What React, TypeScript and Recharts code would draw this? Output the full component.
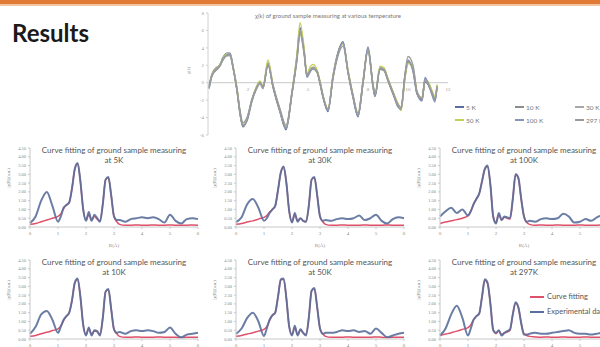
import { LineChart, Line, XAxis, YAxis, ReferenceLine, ReferenceDot, Legend } from 'recharts';

// chi(k) at various temperature (top chart)
const kVals = [0.05, 0.2, 0.45, 0.6, 0.75, 0.95, 1.1, 1.25, 1.45, 1.6, 1.75, 1.95, 2.2, 2.45, 2.6, 2.75, 3.0, 3.25, 3.6, 3.9, 4.2, 4.45, 4.6, 4.8, 4.95, 5.1, 5.25, 5.45, 5.6, 5.75, 6.0, 6.25, 6.5, 6.75, 7.0, 7.25, 7.5, 7.75, 8.0, 8.25, 8.35, 8.6, 8.8, 9.0, 9.25, 9.5, 9.65, 9.85, 10.0, 10.25, 10.45, 10.7, 10.85, 11.0, 11.2, 11.35, 11.45];
const chi5K = [-0.6, 0.9, 1.7, 2.1, 2.9, 3.4, 3.4, 1.9, -0.8, -3.5, -5.0, -4.3, -2.0, -0.5, 0.0, -0.6, 2.3, -0.4, -3.3, -5.4, -1.2, 3.0, 6.3, 3.8, 0.7, 1.3, 1.7, 1.3, 0.0, -1.6, -3.3, 0.7, 3.4, 4.7, 1.3, -1.6, -3.9, 0.0, 4.0, -0.4, -1.6, 1.7, 1.5, 0.3, -1.2, -2.7, -3.1, 0.7, 2.4, 1.5, -1.2, -2.0, 0.1, -0.2, -1.2, -2.0, -0.4];
const chi10K = [-0.5, 1.0, 1.8, 2.0, 2.8, 3.3, 3.3, 1.8, -0.9, -3.6, -5.1, -4.2, -1.9, -0.4, 0.1, -0.5, 2.2, -0.5, -3.4, -5.3, -1.1, 3.1, 6.1, 3.7, 0.8, 1.4, 1.6, 1.2, -0.1, -1.7, -3.2, 0.8, 3.5, 4.6, 1.2, -1.7, -3.8, 0.1, 3.9, -0.5, -1.5, 1.6, 1.4, 0.2, -1.3, -2.6, -3.0, 0.8, 2.5, 1.4, -1.3, -1.9, 0.3, -0.1, -1.3, -1.9, -0.3];
const chi30K = [-0.6, 0.8, 1.6, 2.0, 2.8, 3.3, 3.2, 1.8, -0.7, -3.4, -4.9, -4.2, -2.1, -0.6, -0.1, -0.7, 2.2, -0.3, -3.2, -5.2, -1.3, 2.9, 6.0, 3.6, 0.9, 1.5, 1.8, 1.4, 0.1, -1.5, -3.1, 0.6, 3.3, 4.5, 1.4, -1.5, -3.7, -0.1, 3.8, -0.3, -1.4, 1.8, 1.6, 0.4, -1.1, -2.5, -2.9, 0.6, 2.3, 1.6, -1.1, -1.8, 0.4, 0.0, -1.0, -1.8, -0.5];
const chi50K = [-0.5, 0.9, 1.7, 2.1, 2.8, 3.3, 3.3, 1.9, -0.6, -3.3, -4.8, -4.1, -2.0, -0.3, 0.2, -0.4, 2.6, -0.2, -3.1, -5.1, -1.0, 3.3, 6.9, 4.1, 1.0, 1.8, 2.1, 1.5, 0.2, -1.4, -3.0, 0.8, 3.3, 4.4, 1.5, -1.4, -3.6, 0.2, 3.7, -0.2, -1.3, 1.9, 1.7, 0.5, -1.0, -2.4, -3.2, 0.5, 2.2, 1.7, -1.0, -1.7, 0.2, 0.1, -0.9, -1.6, -0.2];
const chi100K = [-0.7, 0.8, 1.6, 2.0, 2.7, 3.2, 3.3, 1.8, -0.9, -3.4, -4.9, -4.4, -2.1, -0.5, 0.0, -0.5, 2.1, -0.5, -3.2, -5.2, -1.1, 2.8, 5.9, 3.6, 0.6, 1.2, 1.6, 1.2, 0.0, -1.6, -3.2, 0.6, 3.4, 4.6, 1.2, -1.6, -3.8, 0.0, 4.1, -0.3, -1.5, 1.6, 1.5, 0.3, -1.2, -2.8, -3.0, 0.9, 2.6, 1.3, -1.2, -2.1, 0.6, 0.0, -1.4, -2.2, -0.6];
const chi297K = [-0.4, 0.9, 1.5, 1.9, 2.6, 3.1, 3.1, 1.7, -0.8, -3.2, -4.6, -4.0, -1.9, -0.5, 0.0, -0.5, 2.0, -0.3, -3.0, -4.9, -1.2, 2.6, 5.6, 3.4, 0.9, 1.4, 1.7, 1.3, 0.0, -1.5, -3.0, 0.5, 3.1, 4.2, 1.2, -1.4, -3.5, 0.1, 3.6, -0.2, -1.3, 1.5, 1.4, 0.3, -1.1, -2.5, -2.8, 1.0, 3.0, 2.0, -1.0, -1.8, 0.2, -0.1, -1.1, -1.8, -0.4];
const chiTicksY = [-6, -4, -2, 0, 2, 4, 6, 8];
const chiTicksX = [2, 5, 8, 10, 12];

// |chi(R)| curve fitting panels
const rVals = [0, 0.2, 0.4, 0.6, 0.8, 1.0, 1.1, 1.2, 1.3, 1.4, 1.5, 1.6, 1.7, 1.8, 1.9, 2.0, 2.1, 2.2, 2.3, 2.4, 2.5, 2.6, 2.7, 2.8, 2.9, 3.0, 3.1, 3.2, 3.4, 3.6, 3.8, 4.0, 4.2, 4.4, 4.6, 4.8, 5.0, 5.2, 5.4, 5.6, 5.8, 6.0];
const exp5K = [0.23, 0.6, 1.5, 2.0, 1.2, 0.3, 0.6, 1.1, 1.25, 1.4, 2.2, 3.3, 3.65, 2.6, 1.0, 0.35, 0.85, 0.35, 0.7, 0.5, 0.3, 1.3, 2.7, 2.85, 1.8, 0.6, 0.4, 0.4, 0.3, 0.45, 0.5, 0.55, 0.5, 0.55, 0.45, 0.25, 0.7, 0.35, 0.2, 0.45, 0.5, 0.45];
const fit5K = [0.15, 0.2, 0.3, 0.4, 0.5, 0.6, 0.75, 1.05, 1.25, 1.4, 2.2, 3.3, 3.6, 2.6, 1.0, 0.4, 0.7, 0.4, 0.6, 0.45, 0.35, 1.3, 2.7, 2.8, 1.8, 0.6, 0.3, 0.15, 0.1, 0.1, 0.12, 0.1, 0.1, 0.12, 0.1, 0.1, 0.12, 0.1, 0.1, 0.1, 0.12, 0.1];
const exp30K = [0.28, 0.55, 1.3, 1.6, 1.1, 0.35, 0.5, 0.8, 1.0, 1.2, 2.1, 3.1, 3.45, 2.5, 0.9, 0.25, 0.8, 0.3, 0.5, 0.35, 0.3, 1.2, 2.7, 2.85, 1.8, 0.6, 0.35, 0.4, 0.35, 0.45, 0.5, 0.45, 0.5, 0.65, 0.4, 0.5, 0.7, 0.35, 0.2, 0.45, 0.55, 0.5];
const fit30K = [0.15, 0.2, 0.28, 0.35, 0.45, 0.55, 0.65, 0.85, 1.0, 1.2, 2.1, 3.1, 3.4, 2.5, 0.9, 0.3, 0.7, 0.35, 0.5, 0.35, 0.3, 1.2, 2.7, 2.8, 1.8, 0.6, 0.3, 0.15, 0.1, 0.1, 0.12, 0.1, 0.1, 0.1, 0.12, 0.1, 0.1, 0.1, 0.12, 0.1, 0.1, 0.1];
const exp100K = [0.6, 0.9, 1.1, 0.8, 1.0, 0.65, 0.9, 1.3, 1.6, 1.9, 2.6, 3.3, 3.5, 2.4, 0.6, 0.2, 0.8, 0.4, 0.6, 0.55, 0.5, 1.6, 3.0, 2.8, 1.6, 0.6, 0.3, 0.35, 0.3, 0.45, 0.5, 0.45, 0.5, 0.75, 0.6, 0.25, 0.3, 0.45, 0.35, 0.55, 0.65, 0.6];
const fit100K = [0.2, 0.28, 0.35, 0.42, 0.5, 0.65, 0.9, 1.3, 1.6, 1.9, 2.6, 3.3, 3.45, 2.4, 0.6, 0.25, 0.7, 0.4, 0.55, 0.5, 0.45, 1.6, 3.0, 2.75, 1.6, 0.6, 0.25, 0.15, 0.1, 0.12, 0.1, 0.1, 0.12, 0.1, 0.1, 0.1, 0.12, 0.1, 0.1, 0.1, 0.12, 0.1];
const exp10K = [0.3, 0.7, 1.4, 1.6, 1.1, 0.35, 0.7, 1.1, 1.3, 1.5, 2.2, 3.2, 3.45, 2.4, 0.8, 0.2, 0.65, 0.2, 0.5, 0.45, 0.2, 1.2, 2.7, 2.85, 1.7, 0.55, 0.35, 0.4, 0.3, 0.45, 0.5, 0.45, 0.5, 0.45, 0.35, 0.4, 0.65, 0.3, 0.1, 0.25, 0.3, 0.35];
const fit10K = [0.15, 0.2, 0.3, 0.38, 0.48, 0.58, 0.75, 1.05, 1.3, 1.5, 2.2, 3.2, 3.4, 2.4, 0.8, 0.25, 0.6, 0.25, 0.45, 0.4, 0.25, 1.2, 2.7, 2.8, 1.7, 0.55, 0.3, 0.15, 0.1, 0.1, 0.12, 0.1, 0.1, 0.1, 0.12, 0.1, 0.1, 0.1, 0.08, 0.1, 0.1, 0.1];
const exp50K = [0.3, 0.6, 1.2, 1.5, 1.0, 0.17, 0.6, 1.1, 1.35, 1.5, 2.4, 3.4, 3.45, 2.3, 0.7, 0.2, 0.75, 0.2, 0.55, 0.35, 0.2, 1.2, 2.75, 2.9, 1.8, 0.6, 0.3, 0.35, 0.35, 0.4, 0.5, 0.45, 0.5, 0.4, 0.45, 0.3, 0.6, 0.35, 0.1, 0.2, 0.3, 0.35];
const fit50K = [0.15, 0.2, 0.28, 0.36, 0.45, 0.55, 0.7, 1.05, 1.35, 1.5, 2.4, 3.35, 3.4, 2.3, 0.7, 0.25, 0.65, 0.25, 0.5, 0.35, 0.25, 1.2, 2.75, 2.85, 1.8, 0.6, 0.3, 0.15, 0.1, 0.1, 0.1, 0.12, 0.1, 0.1, 0.1, 0.1, 0.12, 0.1, 0.08, 0.1, 0.1, 0.1];
const exp297K = [0.2, 0.6, 1.4, 1.9, 1.2, 0.2, 0.6, 1.1, 1.3, 1.45, 2.4, 3.4, 3.2, 2.0, 0.5, 0.35, 0.5, 0.2, 0.35, 0.45, 0.55, 1.4, 2.1, 1.8, 0.9, 0.25, 0.25, 0.3, 0.35, 0.3, 0.3, 0.35, 0.4, 0.45, 0.5, 0.35, 0.3, 0.3, 0.25, 0.3, 0.35, 0.3];
const fit297K = [0.2, 0.28, 0.36, 0.45, 0.55, 0.65, 0.8, 1.1, 1.3, 1.45, 2.4, 3.35, 3.15, 2.0, 0.55, 0.3, 0.45, 0.25, 0.35, 0.4, 0.5, 1.4, 2.05, 1.8, 0.9, 0.3, 0.2, 0.15, 0.12, 0.1, 0.12, 0.1, 0.1, 0.12, 0.1, 0.1, 0.1, 0.12, 0.1, 0.1, 0.1, 0.1];
const rTicksY = [0, 0.5, 1, 1.5, 2, 2.5, 3, 3.5, 4, 4.5];
const rTicksX = [0, 1, 2, 3, 4, 5, 6];

const tempSeries = [
  { key: 't5', name: '5 K', color: '#5b6e9e', values: chi5K },
  { key: 't10', name: '10 K', color: '#8c8c8c', values: chi10K },
  { key: 't30', name: '30 K', color: '#a8a8a8', values: chi30K },
  { key: 't50', name: '50 K', color: '#c4cf5a', values: chi50K },
  { key: 't100', name: '100 K', color: '#8896b5', values: chi100K },
  { key: 't297', name: '297 K', color: '#9b9b9b', values: chi297K },
];

const chiData = kVals.map((k, i) => {
  const row: Record<string, number> = { k };
  tempSeries.forEach((s) => { row[s.key] = s.values[i]; });
  return row;
});

const FIT_COLOR = '#e0506a';
const EXP_COLOR = '#5a6f9a';
const FONT = 'Lato, "Open Sans", sans-serif';

const panels = [
  { label: '5K', exp: exp5K, fit: fit5K, left: 0, top: 140 },
  { label: '30K', exp: exp30K, fit: fit30K, left: 206, top: 140 },
  { label: '100K', exp: exp100K, fit: fit100K, left: 410, top: 140 },
  { label: '10K', exp: exp10K, fit: fit10K, left: 0, top: 252 },
  { label: '50K', exp: exp50K, fit: fit50K, left: 206, top: 252 },
  { label: '297K', exp: exp297K, fit: fit297K, left: 410, top: 252, legend: true },
];

const TempLegend = () => (
  <div style={{ display: 'grid', gridTemplateColumns: '60px 60px 60px', rowGap: 3, fontFamily: FONT, fontSize: 6.5, color: '#777' }}>
    {tempSeries.map((s) => (
      <div key={s.key} style={{ display: 'flex', alignItems: 'center', height: 10 }}>
        <span style={{ width: 9, height: 1.5, background: s.color, marginRight: 2 }} />
        {s.name}
      </div>
    ))}
  </div>
);

const FitLegend = () => (
  <div style={{ fontFamily: FONT, fontSize: 7.5, color: '#555' }}>
    {[
      { name: 'Curve fitting', color: FIT_COLOR },
      { name: 'Experimental data', color: EXP_COLOR },
    ].map((it) => (
      <div key={it.name} style={{ display: 'flex', alignItems: 'center', height: 15, whiteSpace: 'nowrap' }}>
        <span style={{ width: 14, height: 2, background: it.color, marginRight: 3 }} />
        {it.name}
      </div>
    ))}
  </div>
);

const FitPanel = ({ label, exp, fit, left, top, legend }: any) => {
  const data = rVals.map((r, i) => ({ r, exp: exp[i], fit: fit[i] }));
  return (
    <div style={{ position: 'absolute', left, top, width: 205, height: 110 }}>
      <LineChart width={205} height={110} data={data} margin={{ top: 8, right: 7, left: 6, bottom: 3 }}>
        <XAxis
          type="number"
          dataKey="r"
          domain={[0, 6]}
          ticks={rTicksX}
          interval={0}
          height={20}
          tick={{ fontSize: 5, fill: '#888' }}
          tickSize={2}
          stroke="#c8c8c8"
          label={{ value: 'R(Å)', position: 'insideBottom', offset: 0, fontSize: 5, fill: '#888' }}
        />
        <YAxis
          domain={[0, 4.5]}
          ticks={rTicksY}
          interval={0}
          width={24}
          tick={{ fontSize: 4.5, fill: '#888' }}
          tickSize={2}
          stroke="#c8c8c8"
          tickFormatter={(v) => v.toFixed(2)}
          label={{ value: '|χ(R)|(a.u.)', angle: -90, position: 'insideLeft', offset: 2, fontSize: 4.5, fill: '#888' }}
        />
        <Line type="monotone" dataKey="fit" stroke={FIT_COLOR} strokeWidth={1.5} dot={false} isAnimationActive={false} />
        <Line type="monotone" dataKey="exp" stroke={EXP_COLOR} strokeWidth={2} strokeOpacity={0.9} dot={false} isAnimationActive={false} />
        {legend && (
          <Legend layout="vertical" align="center" verticalAlign="middle" content={() => <FitLegend />} wrapperStyle={{ left: 120, top: 37, width: 100 }} />
        )}
      </LineChart>
      <div style={{ position: 'absolute', left: 30, top: 5, width: 168, textAlign: 'center', fontFamily: FONT, fontSize: 8, lineHeight: '10px', color: '#555', whiteSpace: 'nowrap' }}>
        Curve fitting of ground sample measuring<br />at {label}
      </div>
    </div>
  );
};

export default function App() {
  return (
    <div style={{ position: 'absolute', left: 0, top: 0, width: 600, height: 347, overflow: 'hidden', background: '#fff' }}>
      <div style={{ position: 'absolute', left: 0, top: 0, width: 600, height: 4, background: '#e07a35' }} />
      <div style={{ position: 'absolute', left: 0, top: 4, width: 600, height: 2, background: '#f3c6a3' }} />
      <div style={{ position: 'absolute', left: 12, top: 21, fontFamily: FONT, fontWeight: 700, fontSize: 24, lineHeight: '24px', color: '#1a1a1a' }}>
        Results
      </div>

      <div style={{ position: 'absolute', left: 180, top: 0, width: 420, height: 145 }}>
        <LineChart width={420} height={145} data={chiData} margin={{ top: 13, right: 152, left: 8, bottom: 10 }}>
          <XAxis type="number" dataKey="k" domain={[0, 12]} hide />
          <YAxis
            domain={[-6, 8]}
            ticks={chiTicksY}
            interval={0}
            width={20}
            tick={{ fontSize: 5, fill: '#999' }}
            tickSize={2}
            stroke="#d0d0d0"
            label={{ value: 'χ(k)', angle: -90, position: 'insideLeft', offset: 0, fontSize: 4.5, fill: '#999' }}
          />
          <ReferenceLine y={0} stroke="#c8c8c8" />
          {chiTicksX.map((t) => (
            <ReferenceDot key={t} x={t} y={0} r={0} stroke="none" ifOverflow="visible" label={{ value: String(t), position: 'bottom', fontSize: 5, fill: '#999' }} />
          ))}
          {tempSeries.map((s) => (
            <Line key={s.key} type="monotone" dataKey={s.key} name={s.name} stroke={s.color} strokeWidth={1.4} dot={false} isAnimationActive={false} />
          ))}
          <Legend layout="vertical" align="center" verticalAlign="middle" content={() => <TempLegend />} wrapperStyle={{ left: 275, top: 102, width: 180 }} />
        </LineChart>
        <div style={{ position: 'absolute', left: 28, top: 12, width: 240, textAlign: 'center', fontFamily: FONT, fontSize: 6, color: '#777', whiteSpace: 'nowrap' }}>
          χ(k) of ground sample measuring at various temperature
        </div>
      </div>

      {panels.map((p) => (
        <FitPanel key={p.label} {...p} />
      ))}
    </div>
  );
}
